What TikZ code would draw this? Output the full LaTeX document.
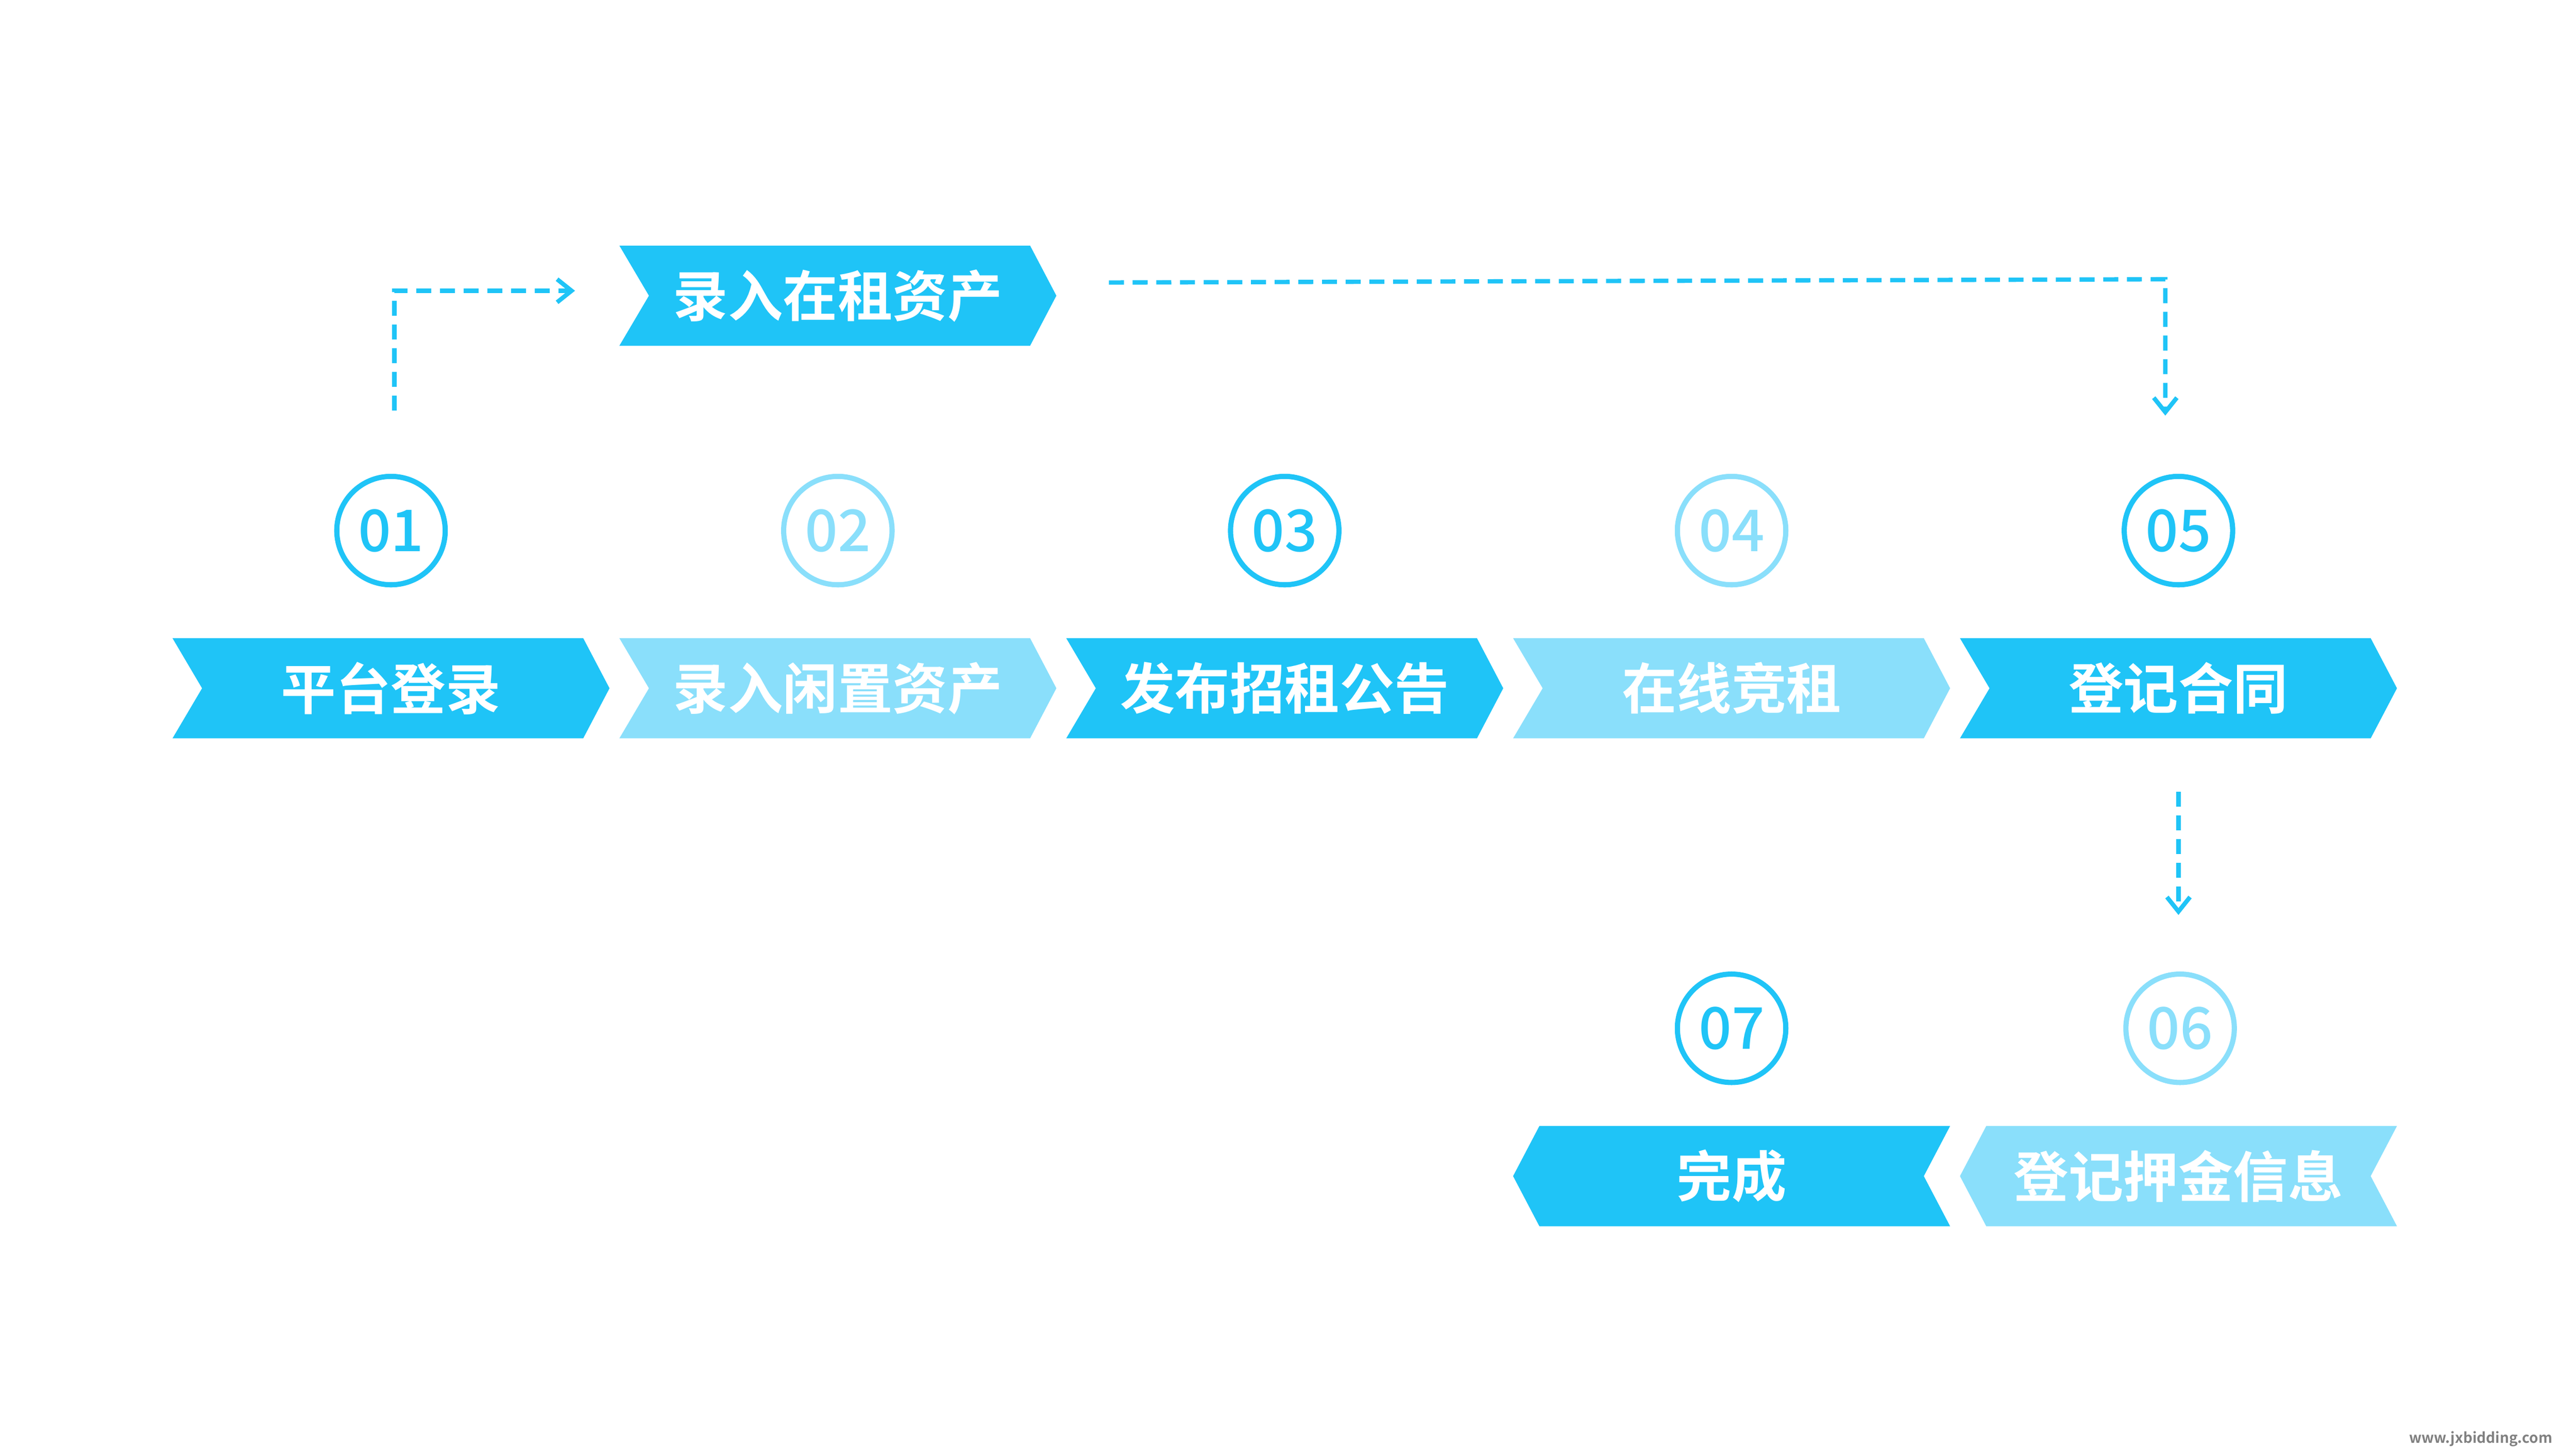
\documentclass[tikz,border=0pt]{standalone}
\usepackage{fontspec}
\newfontfamily\cjk{Noto Sans CJK SC Bold}
\newfontfamily\numf{Noto Sans CJK SC Medium}
\usetikzlibrary{arrows.meta}
\definecolor{dk}{HTML}{1FC4F7}
\definecolor{lt}{HTML}{8ADFFB}
\tikzset{
 lab/.style={text=white,font=\cjk\fontsize{9.5}{10}\selectfont},
 num/.style={circle,draw=#1,line width=0.9pt,minimum size=0.66cm,inner sep=0pt,text=#1,font=\numf\fontsize{10}{10}\selectfont},
 dsh/.style={draw=dk,line width=0.75pt,dash pattern=on 2.6pt off 1.5pt,-{Straight Barb[length=2.5pt,width=4pt]}},
}
\newcommand{\chevR}[4]{% left x, center y, color, name
 \fill[#3] (#1/100,-#2/100+0.305) -- ++(2.5,0) -- ++(0.16,-0.305) -- ++(-0.16,-0.305) -- ++(-2.5,0) -- ++(0.18,0.305) -- cycle;
 \node[lab] (#4) at (#1/100+1.33,-#2/100) {};}
\newcommand{\chevL}[4]{%
 \fill[#3] (#1/100,-#2/100) -- ++(0.16,0.305) -- ++(2.5,0) -- ++(-0.16,-0.305) -- ++(0.16,-0.305) -- ++(-2.5,0) -- cycle;
 \node[lab] (#4) at (#1/100+1.33,-#2/100) {};}
\begin{document}
\begin{tikzpicture}
\useasboundingbox (0,0) rectangle (15.68,-8.82);
\chevR{105}{419}{dk}{c1}\node[lab] at (c1) {平台登录};
\chevR{377}{419}{lt}{c2}\node[lab] at (c2) {录入闲置资产};
\chevR{649}{419}{dk}{c3}\node[lab] at (c3) {发布招租公告};
\chevR{921}{419}{lt}{c4}\node[lab] at (c4) {在线竞租};
\chevR{1193}{419}{dk}{c5}\node[lab] at (c5) {登记合同};
\chevR{377}{180}{dk}{ct}\node[lab] at (ct) {录入在租资产};
\chevL{921}{716}{dk}{c7}\node[lab] at (c7) {完成};
\chevL{1193}{716}{lt}{c6}\node[lab] at (c6) {登记押金信息};
\node[num=dk] (n1) at (2.38,-3.23) {01};
\node[num=lt] (n2) at (5.10,-3.23) {02};
\node[num=dk] (n3) at (7.82,-3.23) {03};
\node[num=lt] (n4) at (10.54,-3.23) {04};
\node[num=dk] (n5) at (13.26,-3.23) {05};
\node[num=dk] (n7) at (10.54,-6.26) {07};
\node[num=lt] (n6) at (13.27,-6.26) {06};
\coordinate (a1) at (2.40,-2.50); \coordinate (a2) at (3.50,-1.77);
\draw[dsh] (a1) |- (a2);
\coordinate (b1) at (6.75,-1.72); \coordinate (b2) at (13.18,-2.53);
\draw[dsh] (b1) -- (13.18,-1.70) -- (b2);
\coordinate (d1) at (13.26,-4.82); \coordinate (d2) at (13.26,-5.57);
\draw[dsh] (d1) -- (d2);
\node[anchor=east,text=gray,font=\cjk\fontsize{2.5}{3}\selectfont] (wm) at (15.66,-8.76) {www.jxbidding.com};
\end{tikzpicture}
\end{document}
